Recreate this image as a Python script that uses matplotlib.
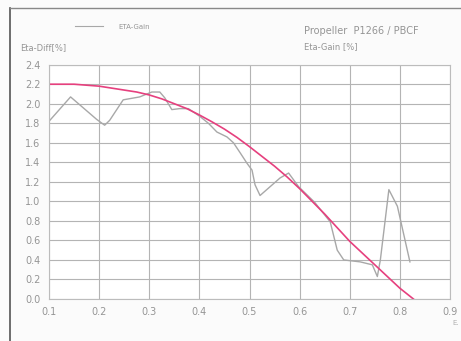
import matplotlib
matplotlib.use("Agg")
import matplotlib.pyplot as plt

# measured Eta-Gain curve (grey, noisy)
gain_x = [0.100, 0.143, 0.195, 0.211, 0.221, 0.248, 0.281, 0.305, 0.321, 0.331,
          0.345, 0.361, 0.378, 0.401, 0.418, 0.435, 0.455, 0.468, 0.481, 0.495,
          0.505, 0.511, 0.521, 0.541, 0.561, 0.578, 0.598, 0.630, 0.661, 0.675,
          0.688, 0.721, 0.745, 0.755, 0.761, 0.778, 0.795, 0.820]
gain_y = [1.82, 2.07, 1.84, 1.78, 1.83, 2.04, 2.07, 2.12, 2.12, 2.06,
          1.94, 1.95, 1.95, 1.87, 1.80, 1.71, 1.66, 1.60, 1.50, 1.39,
          1.32, 1.17, 1.06, 1.15, 1.24, 1.29, 1.15, 0.99, 0.79, 0.50,
          0.40, 0.38, 0.35, 0.23, 0.40, 1.12, 0.95, 0.38]

# smoothed fit (pink)
fit_x = [0.100, 0.125, 0.150, 0.175, 0.200, 0.225, 0.250, 0.275, 0.300, 0.325,
         0.350, 0.375, 0.400, 0.425, 0.450, 0.475, 0.500, 0.525, 0.550, 0.575,
         0.600, 0.625, 0.650, 0.675, 0.700, 0.725, 0.750, 0.775, 0.800, 0.827]
fit_y = [2.20, 2.20, 2.20, 2.19, 2.18, 2.16, 2.14, 2.12, 2.09, 2.05,
         2.00, 1.95, 1.885, 1.815, 1.74, 1.655, 1.56, 1.46, 1.36, 1.25,
         1.13, 1.00, 0.87, 0.73, 0.59, 0.47, 0.35, 0.23, 0.11, 0.00]

x_ticks = [0.1, 0.2, 0.3, 0.4, 0.5, 0.6, 0.7, 0.8, 0.9]
y_ticks = [0.0, 0.2, 0.4, 0.6, 0.8, 1.0, 1.2, 1.4, 1.6, 1.8, 2.0, 2.2, 2.4]

GREY = "#a8a8a8"
TEXT = "#959595"
PINK = "#e6407e"

fig = plt.figure(figsize=(4.61, 3.41), dpi=100, facecolor="#fbfbfb")
ax = fig.add_axes([0.1063, 0.1232, 0.8699, 0.6871], facecolor="white")

ax.plot(gain_x, gain_y, color=GREY, lw=1.0)
ax.plot(fit_x, fit_y, color=PINK, lw=1.2)

ax.set_xlim(0.1, 0.9)
ax.set_ylim(0.0, 2.4)
ax.set_xticks(x_ticks)
ax.set_xticklabels([f"{v:.1f}" for v in x_ticks])
ax.set_yticks(y_ticks)
ax.set_yticklabels([f"{v:.1f}" for v in y_ticks])
ax.tick_params(length=0, labelsize=7, labelcolor=TEXT, pad=6)
ax.grid(True, color="#b4b4b4", lw=0.8)
for s in ax.spines.values():
    s.set_color("#bcbcbc")
    s.set_linewidth(0.8)

# scanned page border
fig.add_artist(plt.Line2D([10 / 461, 10 / 461], [0, 1 - 8 / 341],
                          transform=fig.transFigure, color="#555555", lw=1.2))
fig.add_artist(plt.Line2D([10 / 461, 1.0], [1 - 8 / 341, 1 - 8 / 341],
                          transform=fig.transFigure, color="#888888", lw=1.0))

# legend and titles
fig.add_artist(plt.Line2D([75 / 461, 103 / 461], [1 - 26 / 341, 1 - 26 / 341],
                          transform=fig.transFigure, color=GREY, lw=0.8))
fig.text(118 / 461, 1 - 27 / 341, "ETA-Gain", fontsize=5, color=TEXT, va="center")
fig.text(304 / 461, 1 - 31 / 341, "Propeller  P1266 / PBCF", fontsize=7,
         color=TEXT, va="center")
fig.text(304 / 461, 1 - 47 / 341, "Eta-Gain [%]", fontsize=6, color=TEXT, va="center")
fig.text(20 / 461, 1 - 48 / 341, "Eta-Diff[%]", fontsize=6, color=TEXT, va="center")
fig.text(452 / 461, 1 - 323 / 341, "E.", fontsize=5, color="#b0b0b0", va="center")

fig.savefig("out.png", dpi=100, facecolor=fig.get_facecolor())
